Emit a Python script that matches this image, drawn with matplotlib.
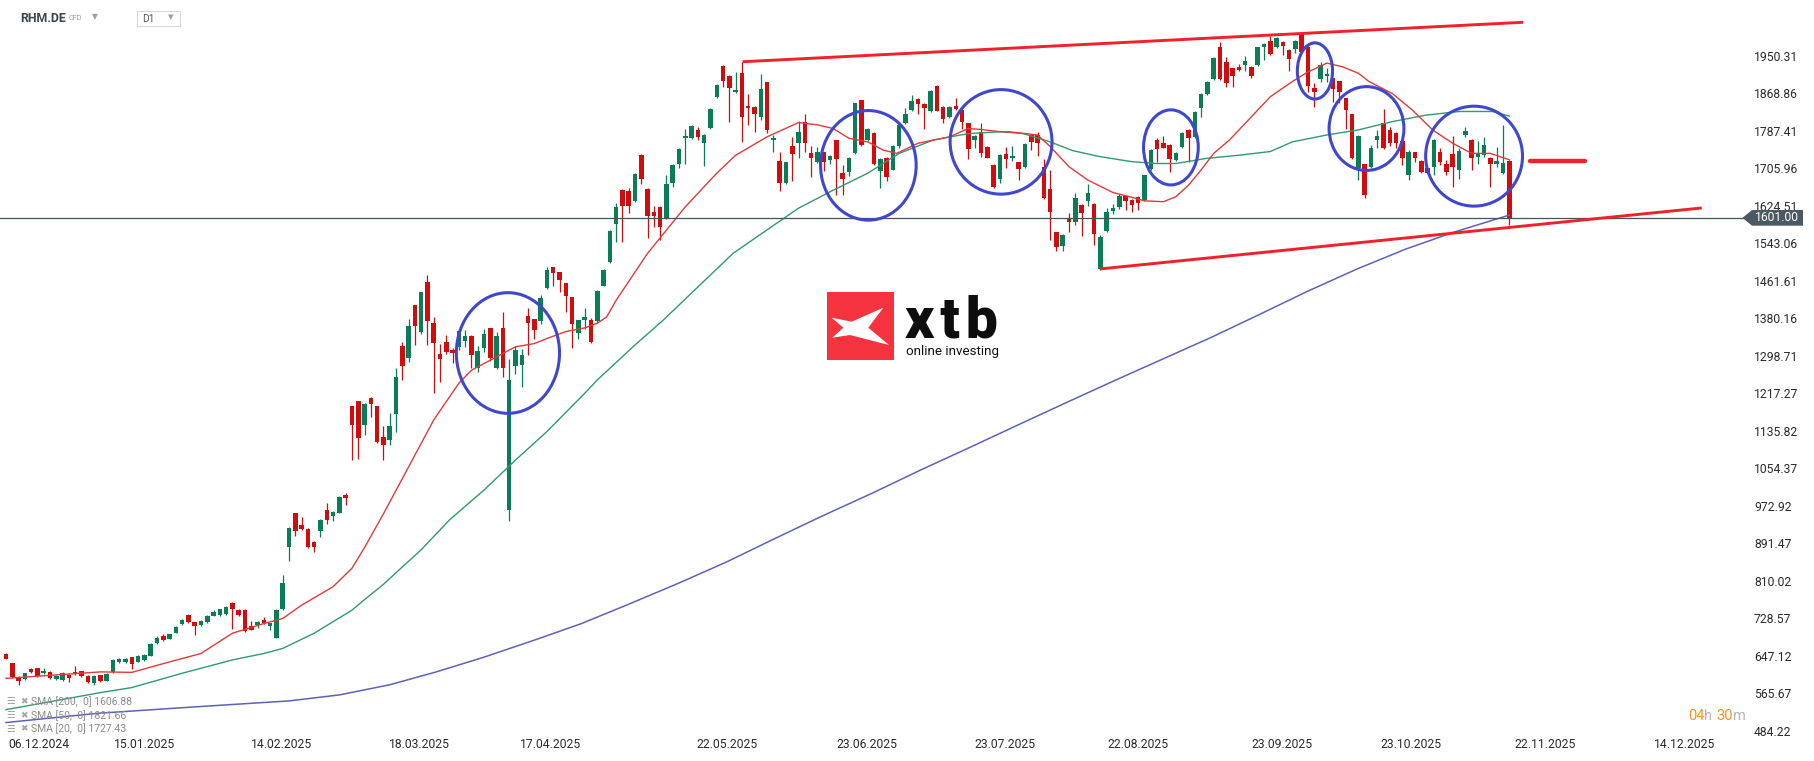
import numpy as np
import matplotlib.pyplot as plt
from matplotlib.patches import Ellipse, Rectangle, Polygon
from matplotlib import transforms

plt.rcParams['font.family'] = ['Roboto', 'DejaVu Sans']

# daily candles RHM.DE (bar index 0 .. 239)
opens = [654, 634, 605, 600, 621, 623, 612, 614, 600, 597,
         608, 615, 616, 606, 591, 608, 596, 614, 636, 636,
         647, 637, 641, 650, 677, 694, 687, 700, 719, 739,
         723, 717, 723, 737, 739, 741, 765, 749, 750, 715,
         717, 728, 715, 689, 752, 887, 959, 933, 925, 897,
         922, 967, 954, 961, 999, 1192, 1203, 1151, 1210, 1192,
         1125, 1119, 1174, 1323, 1297, 1412, 1354, 1461, 1372, 1305,
         1331, 1313, 1321, 1334, 1344, 1274, 1319, 1361, 1274, 1361,
         967, 1280, 1282, 1388, 1381, 1376, 1449, 1495, 1483, 1459,
         1429, 1352, 1379, 1379, 1377, 1454, 1506, 1587, 1661, 1660,
         1638, 1738, 1664, 1614, 1625, 1600, 1676, 1719, 1774, 1775,
         1792, 1764, 1797, 1864, 1931, 1908, 1874, 1916, 1844, 1842,
         1821, 1895, 1769, 1725, 1676, 1757, 1764, 1810, 1741, 1723,
         1743, 1727, 1769, 1698, 1701, 1741, 1857, 1770, 1786, 1703,
         1730, 1706, 1756, 1807, 1835, 1859, 1848, 1832, 1887, 1841,
         1819, 1844, 1835, 1806, 1769, 1787, 1754, 1716, 1685, 1740,
         1730, 1722, 1712, 1782, 1781, 1712, 1664, 1570, 1540, 1599,
         1593, 1629, 1638, 1631, 1489, 1573, 1615, 1625, 1648, 1640,
         1646, 1640, 1707, 1770, 1763, 1759, 1727, 1755, 1792, 1777,
         1840, 1870, 1903, 1972, 1940, 1926, 1928, 1933, 1929, 1932,
         1973, 1985, 1971, 1982, 1966, 1968, 2002, 1973, 1884, 1903,
         1908, 1904, 1898, 1861, 1826, 1709, 1718, 1712, 1770, 1806,
         1792, 1786, 1767, 1693, 1743, 1725, 1709, 1712, 1744, 1719,
         1740, 1705, 1780, 1770, 1734, 1738, 1731, 1717, 1699, 1725]
highs = [655, 634, 606, 613, 624, 624, 624, 618, 608, 614,
         610, 628, 617, 608, 609, 609, 612, 642, 645, 645,
         648, 651, 653, 678, 692, 697, 697, 714, 729, 740,
         724, 727, 738, 749, 752, 759, 766, 751, 751, 725,
         725, 734, 722, 751, 825, 930, 960, 952, 927, 900,
         946, 981, 965, 996, 1004, 1193, 1204, 1198, 1211, 1193,
         1150, 1177, 1276, 1331, 1381, 1412, 1441, 1477, 1386, 1327,
         1347, 1318, 1358, 1357, 1346, 1322, 1360, 1362, 1354, 1397,
         1294, 1323, 1316, 1405, 1382, 1434, 1494, 1495, 1484, 1460,
         1430, 1380, 1405, 1383, 1444, 1489, 1574, 1633, 1663, 1665,
         1698, 1739, 1665, 1627, 1627, 1694, 1717, 1752, 1793, 1802,
         1798, 1783, 1839, 1891, 1932, 1911, 1918, 1940, 1870, 1844,
         1914, 1896, 1782, 1745, 1723, 1777, 1811, 1827, 1756, 1754,
         1744, 1738, 1770, 1716, 1733, 1851, 1858, 1796, 1788, 1730,
         1733, 1759, 1805, 1839, 1868, 1861, 1850, 1878, 1889, 1843,
         1843, 1861, 1837, 1808, 1781, 1806, 1756, 1717, 1739, 1755,
         1756, 1723, 1763, 1784, 1788, 1728, 1705, 1571, 1565, 1611,
         1654, 1631, 1675, 1633, 1564, 1622, 1631, 1652, 1649, 1641,
         1648, 1694, 1751, 1775, 1779, 1761, 1743, 1788, 1793, 1832,
         1873, 1898, 1950, 1982, 1951, 1927, 1935, 1953, 1930, 1973,
         1980, 1995, 1993, 1984, 1967, 1987, 2005, 1975, 1893, 1940,
         1927, 1905, 1899, 1862, 1827, 1780, 1719, 1759, 1792, 1837,
         1798, 1787, 1768, 1748, 1745, 1726, 1710, 1772, 1752, 1727,
         1779, 1752, 1799, 1772, 1767, 1777, 1733, 1755, 1803, 1726]
lows = [642, 602, 586, 598, 613, 605, 610, 599, 598, 596,
        594, 608, 605, 590, 586, 592, 595, 613, 634, 634,
        622, 636, 639, 649, 675, 683, 686, 699, 717, 722,
        696, 715, 721, 736, 737, 739, 709, 737, 702, 706,
        710, 720, 705, 688, 750, 855, 910, 924, 883, 875,
        908, 936, 943, 959, 977, 1075, 1077, 1129, 1169, 1113,
        1075, 1108, 1137, 1249, 1289, 1325, 1348, 1325, 1221, 1245,
        1305, 1285, 1314, 1321, 1274, 1267, 1310, 1291, 1272, 1256,
        943, 1263, 1234, 1303, 1337, 1370, 1447, 1452, 1441, 1397,
        1318, 1337, 1359, 1330, 1373, 1452, 1504, 1549, 1548, 1612,
        1636, 1674, 1557, 1582, 1553, 1598, 1669, 1709, 1718, 1773,
        1770, 1714, 1795, 1862, 1886, 1810, 1872, 1766, 1803, 1788,
        1814, 1786, 1745, 1660, 1674, 1682, 1732, 1745, 1689, 1720,
        1703, 1717, 1651, 1651, 1692, 1739, 1757, 1768, 1715, 1665,
        1680, 1704, 1753, 1805, 1833, 1827, 1795, 1830, 1832, 1808,
        1817, 1835, 1795, 1728, 1752, 1734, 1730, 1665, 1677, 1710,
        1725, 1683, 1710, 1748, 1735, 1642, 1553, 1528, 1528, 1571,
        1586, 1562, 1627, 1541, 1487, 1571, 1610, 1620, 1617, 1614,
        1617, 1638, 1705, 1722, 1752, 1701, 1724, 1753, 1722, 1775,
        1819, 1868, 1900, 1900, 1886, 1886, 1920, 1919, 1905, 1930,
        1944, 1955, 1969, 1955, 1921, 1958, 1960, 1874, 1842, 1895,
        1897, 1853, 1850, 1795, 1728, 1683, 1645, 1710, 1752, 1751,
        1756, 1752, 1716, 1683, 1722, 1698, 1696, 1694, 1716, 1694,
        1667, 1685, 1777, 1705, 1719, 1734, 1667, 1712, 1697, 1586]
closes = [643, 603, 596, 612, 615, 607, 617, 602, 607, 613,
          602, 610, 607, 592, 607, 595, 611, 641, 642, 643,
          632, 650, 652, 676, 689, 684, 697, 713, 728, 724,
          715, 726, 736, 744, 751, 757, 751, 739, 704, 707,
          723, 722, 721, 749, 807, 928, 920, 926, 887, 886,
          945, 945, 962, 995, 993, 1151, 1124, 1197, 1197, 1115,
          1108, 1149, 1255, 1279, 1366, 1366, 1440, 1376, 1329, 1295,
          1309, 1307, 1355, 1344, 1303, 1312, 1349, 1297, 1344, 1276,
          1249, 1314, 1303, 1372, 1358, 1426, 1488, 1481, 1465, 1432,
          1371, 1379, 1385, 1332, 1442, 1488, 1572, 1625, 1627, 1627,
          1696, 1685, 1604, 1604, 1582, 1675, 1716, 1751, 1778, 1800,
          1777, 1781, 1837, 1890, 1899, 1882, 1879, 1821, 1839, 1827,
          1881, 1792, 1774, 1676, 1722, 1740, 1787, 1763, 1730, 1743,
          1722, 1736, 1729, 1685, 1732, 1850, 1759, 1794, 1717, 1729,
          1690, 1757, 1803, 1827, 1855, 1848, 1840, 1876, 1834, 1815,
          1841, 1837, 1810, 1750, 1779, 1741, 1732, 1669, 1738, 1729,
          1736, 1707, 1761, 1766, 1764, 1645, 1614, 1538, 1564, 1591,
          1644, 1612, 1656, 1566, 1559, 1614, 1622, 1649, 1638, 1630,
          1634, 1693, 1748, 1751, 1753, 1728, 1742, 1786, 1774, 1830,
          1871, 1897, 1948, 1903, 1893, 1908, 1922, 1942, 1908, 1971,
          1978, 1957, 1991, 1975, 1946, 1985, 1962, 1887, 1875, 1934,
          1913, 1880, 1875, 1835, 1730, 1779, 1651, 1753, 1779, 1753,
          1763, 1763, 1732, 1744, 1732, 1701, 1698, 1770, 1722, 1701,
          1712, 1746, 1790, 1732, 1741, 1759, 1717, 1725, 1721, 1601]

# moving averages read at sample bars
sma20_x = [0, 15, 20, 25, 31, 36, 41, 44, 47, 52, 55, 57, 60, 64, 68, 72, 74, 77, 81, 84,
           86, 89, 92, 94, 95.5, 97, 102, 108, 113, 116, 121, 126, 129, 131.5, 134, 137,
           139.5, 141.6, 145, 150, 153, 155, 158, 159.5, 164, 166, 169, 172, 176, 178.6,
           181, 184, 186, 188, 190, 192, 194.5, 197, 199, 201, 204.5, 207, 210, 212.5,
           215, 216.7, 220.4, 223.6, 226.8, 230, 233, 236, 239]
sma20_y = [601, 615, 614, 633, 655, 699, 720, 731, 760, 800, 840, 885, 958, 1060, 1162,
           1242, 1270, 1292, 1321, 1328, 1339, 1354, 1362, 1372, 1386, 1422, 1524, 1625,
           1698, 1737, 1777, 1808, 1803, 1795, 1774, 1766, 1748, 1741, 1763, 1777, 1795,
           1793, 1788, 1788, 1781, 1756, 1712, 1683, 1656, 1647, 1638, 1636, 1647, 1672,
           1705, 1741, 1770, 1806, 1835, 1864, 1897, 1918, 1937, 1929, 1915, 1897, 1871,
           1835, 1792, 1763, 1741, 1741, 1727]
sma50_x = [0, 15, 20, 28, 36, 41, 44, 49, 55, 57, 60, 63, 66, 70.5, 76, 81, 86, 92, 94, 100,
           104.5, 110, 115.6, 121, 126, 131.5, 137, 142, 147.4, 153, 158, 161.7, 166,
           169.6, 173.9, 179, 182.9, 186, 190.8, 196, 201, 204.5, 210, 215, 220.4, 225.7,
           231, 236.3, 239]
sma50_y = [533, 570, 581, 612, 641, 655, 666, 699, 749, 772, 805, 843, 880, 945, 1010, 1075,
           1137, 1220, 1249, 1325, 1379, 1451, 1524, 1575, 1622, 1661, 1698, 1741, 1770,
           1784, 1788, 1784, 1766, 1747, 1734, 1723, 1719, 1719, 1730, 1737, 1745, 1766,
           1781, 1792, 1810, 1824, 1832, 1832, 1822]
sma200_x = [0, 14.5, 30, 45, 53, 61, 68.4, 76, 84, 91.5, 99, 107, 114.6, 122.3, 130, 137.7,
            145.5, 153, 161, 168.6, 176.3, 184, 191.7, 199.4, 207, 214.8, 222.5, 230.2, 239]
sma200_y = [505, 525, 539, 552, 565, 587, 615, 647, 684, 720, 762, 808, 854, 905, 955, 1003,
            1054, 1101, 1152, 1200, 1248, 1295, 1342, 1392, 1442, 1490, 1533, 1570, 1607]

price_ticks = [1950.31, 1868.86, 1787.41, 1705.96, 1624.51, 1543.06, 1461.61, 1380.16,
               1298.71, 1217.27, 1135.82, 1054.37, 972.92, 891.47, 810.02, 728.57,
               647.12, 565.67, 484.22]
date_labels = ['06.12.2024', '15.01.2025', '14.02.2025', '18.03.2025', '17.04.2025',
               '22.05.2025', '23.06.2025', '23.07.2025', '22.08.2025', '23.09.2025',
               '23.10.2025', '22.11.2025', '14.12.2025']
date_pos = [5.3, 22.05, 43.8, 65.7, 86.5, 114.6, 136.9, 158.8, 179.9, 202.8, 223.4, 244.7, 266.8]
last_price = 1601.00
legend_rows = ['SMA [200,  0] 1606.88', 'SMA [50,  0] 1821.66', 'SMA [20,  0] 1727.43']

# drawn annotations (bar index, price)
upper_line = ([117.1, 241.2], [1940, 2025.7])
lower_line = ([173.9, 269.6], [1490, 1622.5])
target_line = ([242.3, 251.0], [1724.6, 1724.6])
circles = [(79.8, 1307.5, 16.4, 262), (137.1, 1715, 15.2, 238), (158.2, 1766, 16.2, 227),
           (185.2, 1754, 8.7, 163), (208.1, 1920, 5.6, 122), (216.3, 1795, 11.9, 182),
           (233.4, 1735, 15.4, 217)]

GREEN = '#0a7d56'
RED = '#d20c0c'

fig = plt.figure(figsize=(18.15, 7.61), dpi=100)
ax = fig.add_axes([0, 0, 1, 1])
ax.axis('off')
ax.set_xlim(-0.954, 287.6)
ax.set_ylim(421.5, 2074.1)

o = np.array(opens, float)
h = np.array(highs, float)
l = np.array(lows, float)
c = np.array(closes, float)
x = np.arange(len(o))
cols = np.where(c >= o, GREEN, RED)

ax.vlines(x, l, h, colors=cols, lw=0.9, zorder=2)
body = np.maximum(np.abs(c - o), 2.5)
ax.bar(x, body, bottom=np.minimum(o, c), width=0.72, color=cols, lw=0, zorder=2)

ax.plot(sma200_x, sma200_y, color='#5d62b8', lw=1.1, zorder=3)
ax.plot(sma50_x, sma50_y, color='#2f9a6f', lw=1.0, zorder=3)
ax.plot(sma20_x, sma20_y, color='#e23a3a', lw=1.0, zorder=3)

# current price line
ax.plot([-1, 276.2], [last_price, last_price], color='#44545f', lw=0.9, zorder=3)

# logo
fx = lambda px: px / 1815
fy = lambda py: 1 - py / 761
ax.add_patch(Rectangle((fx(826.7), fy(360)), fx(894.3) - fx(826.7), fy(291.7) - fy(360),
                       transform=ax.transAxes, color='#f5333f', lw=0, zorder=1))
xmark = [(831.7, 317.7), (851.7, 321.7), (883.3, 307.7), (868.3, 327.7), (889, 345),
         (850, 335), (832.3, 337.7), (843.3, 327.7)]
ax.add_patch(Polygon([(fx(a), fy(b)) for a, b in xmark], closed=True, transform=ax.transAxes,
                     color='white', lw=0, zorder=1))
ax.text(fx(905), fy(337), 'x\u200at\u200ab', transform=ax.transAxes, ha='left', va='baseline',
        fontsize=41, fontweight='black', color='#0d0d0d', zorder=1)
ax.text(fx(906), fy(355), 'online investing', transform=ax.transAxes, ha='left',
        va='baseline', fontsize=9.6, color='#111111', zorder=1)

# annotations
ax.plot(*upper_line, color='#f0212b', lw=2.1, zorder=4, solid_capstyle='butt')
ax.plot(*lower_line, color='#f0212b', lw=2.1, zorder=4, solid_capstyle='butt')
ax.plot(*target_line, color='#f0212b', lw=3.2, zorder=4, solid_capstyle='round')
for cx, cy, w, hh in circles:
    ax.add_patch(Ellipse((cx, cy), w, hh, fill=False, ec='#3f47cc', lw=2.2, zorder=4))

# price axis
ty = transforms.blended_transform_factory(ax.transAxes, ax.transData)
for p in price_ticks:
    ax.text(0.9664, p, f'{p:.2f}', transform=ty, ha='left', va='center',
            fontsize=8.7, color='#2b2b2b', zorder=5)
half = 17
tag = [(fx(1742.5), last_price), (fx(1752), last_price + half), (fx(1803), last_price + half),
       (fx(1803), last_price - half), (fx(1752), last_price - half)]
ax.add_patch(Polygon(tag, closed=True, transform=ty, color='#4a5963', lw=0, zorder=6))
ax.text(fx(1755), last_price, f'{last_price:.2f}', transform=ty, ha='left', va='center',
        fontsize=8.7, color='white', zorder=7)

# date axis
tx = transforms.blended_transform_factory(ax.transData, ax.transAxes)
for lab, pos in zip(date_labels, date_pos):
    ax.text(pos, fy(744), lab, transform=tx, ha='center', va='center',
            fontsize=8.7, color='#2b2b2b')

# header
ax.text(fx(20), fy(18.5), 'RHM.DE', transform=ax.transAxes, ha='left', va='center',
        fontsize=8.9, fontweight='bold', color='#3b4650')
ax.text(fx(69), fy(18.5), 'CFD', transform=ax.transAxes, ha='left', va='center',
        fontsize=5.2, color='#9aa0a6')
ax.text(fx(95), fy(16.5), '▼', transform=ax.transAxes, ha='center', va='center',
        fontsize=5.5, color='#9aa0a6', family='DejaVu Sans')
ax.add_patch(Rectangle((fx(137), fy(25.5)), fx(180) - fx(137), fy(11) - fy(25.5),
                       transform=ax.transAxes, fill=False, ec='#d6d9dc', lw=0.8))
ax.text(fx(142), fy(19), 'D1', transform=ax.transAxes, ha='left', va='center',
        fontsize=7.3, color='#555b61')
ax.text(fx(171), fy(17.5), '▼', transform=ax.transAxes, ha='center', va='center',
        fontsize=5.2, color='#9aa0a6', family='DejaVu Sans')

# indicator legend
for k, row in enumerate(legend_rows):
    yy = fy(701.5 + 13.8 * k)
    ax.text(fx(6.5), yy, '☰', transform=ax.transAxes, ha='left', va='center',
            fontsize=7, color='#a5a5a5', family='DejaVu Sans')
    ax.text(fx(20), yy, '✖', transform=ax.transAxes, ha='left', va='center',
            fontsize=6.5, color='#a5a5a5', family='DejaVu Sans')
    ax.text(fx(31), yy, row, transform=ax.transAxes, ha='left', va='center',
            fontsize=7.5, color='#8c8c8c')

# countdown
fig.canvas.draw()
rend = fig.canvas.get_renderer()
cur = fx(1688)
for s, col, gap in [('04', '#f7931e', 0), ('h', '#b5b5b5', 0), ('30', '#f7931e', 4), ('m', '#b5b5b5', 0)]:
    cur += gap / 1815
    t = ax.text(cur, fy(716.5), s, transform=ax.transAxes, ha='left', va='center',
                fontsize=10.5, color=col)
    cur += t.get_window_extent(renderer=rend).width / fig.bbox.width

fig.savefig('out.png', dpi=100)
